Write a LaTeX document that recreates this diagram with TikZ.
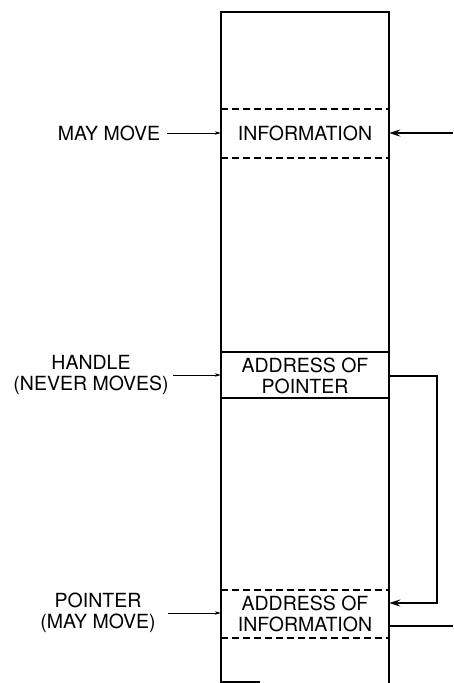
\documentclass[tikz,border=0pt]{standalone}
\usepackage{fontspec}
\setmainfont{TeX Gyre Heros}
\usetikzlibrary{arrows.meta}
\begin{document}
\begin{tikzpicture}[x=1pt,y=-1pt,line cap=butt,line join=miter,>={Stealth[length=11pt,width=7pt]}]
	\tikzset{txt/.style={font=\fontsize{19.5}{21}\selectfont,align=center,inner sep=5pt},
		cell/.style={txt,minimum width=168pt,inner sep=0pt},
		wall/.style={line width=2pt},
		gap/.style={wall,dash pattern=on 7pt off 4pt},
		lead/.style={-{Stealth[length=6pt,width=3.5pt]},line width=0.8pt},
		link/.style={line width=1.8pt}
	}
	\useasboundingbox (0,0) rectangle (453,683);
	% memory block
	\draw[wall] (221,683)--(221,12)--(389,12)--(389,683);
	\draw[wall] (221,682)--(260,682);
	\draw[gap] (221,109)--(389,109) (221,158)--(389,158);
	\draw[wall] (221,352)--(389,352) (221,398)--(389,398);
	\draw[gap] (221,590)--(389,590) (221,638)--(389,638);
	% cells
	\node[cell,minimum height=49pt] (info) at (305,133.5) {INFORMATION};
	\node[cell,minimum height=46pt] (hdl) at (305,376) {ADDRESS OF\\POINTER};
	\node[cell,minimum height=48pt] (ptr) at (305,614) {ADDRESS OF\\INFORMATION};
	% labels
	\node[txt] (maymove) at (109,133) {MAY MOVE};
	\node[txt] (handle) at (91,375) {HANDLE\\(NEVER MOVES)};
	\node[txt] (pointer) at (98,613) {POINTER\\(MAY MOVE)};
	\draw[lead] ([xshift=2pt]maymove.east)--(maymove.east -| info.west);
	\draw[lead] ([xshift=-1pt]handle.east)--(handle.east -| hdl.west);
	\draw[lead] ([xshift=7pt]pointer.east)--(pointer.east -| ptr.west);
	% right side
	\coordinate (inR) at (453,133);
	\coordinate (outR) at (453,626);
	\coordinate (bend) at (437,376);
	\draw[link,<-] (inR -| info.east)--(inR);
	\draw[link,->] (hdl.east)--(bend)|-([yshift=11pt]ptr.east);
	\draw[link] ([yshift=-12pt]ptr.east)--(outR);
\end{tikzpicture}
\end{document}
